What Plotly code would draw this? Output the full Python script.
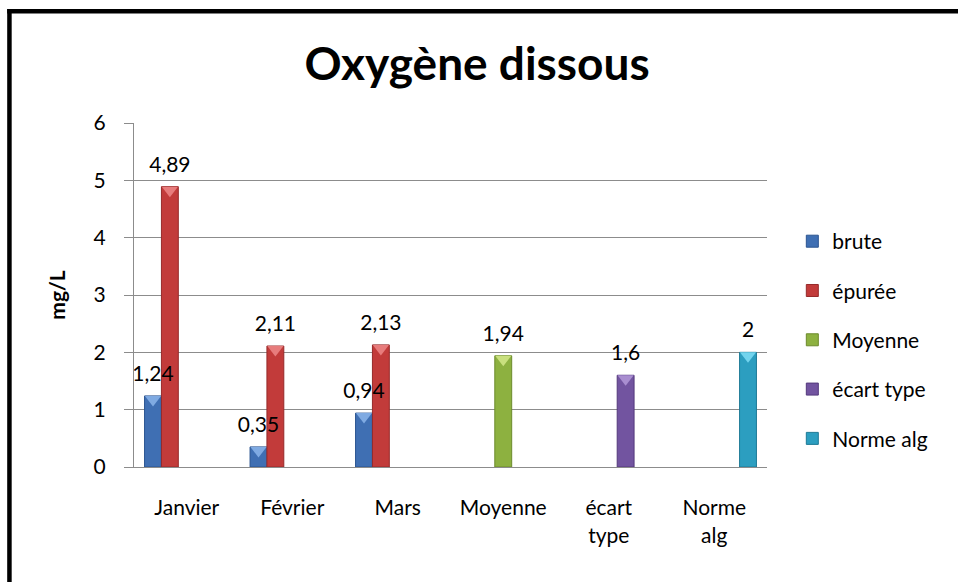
import plotly.graph_objects as go

# Categories on the x axis
categories = ["Janvier", "Février", "Mars", "Moyenne", "écart<br>type", "Norme<br>alg"]

# Dissolved-oxygen values (mg/L) per series; None = no bar in that category
brute = [1.24, 0.35, 0.94, None, None, None]
epuree = [4.89, 2.11, 2.13, None, None, None]
moyenne = [None, None, None, 1.94, None, None]
ecart_type = [None, None, None, None, 1.6, None]
norme_alg = [None, None, None, None, None, 2]

series_names = ["brute", "épurée", "Moyenne", "écart type", "Norme alg"]
series_values = [brute, epuree, moyenne, ecart_type, norme_alg]
series_colors = ["#3F6FB3", "#C23B3A", "#8DB140", "#7254A0", "#2C9EC0"]
series_edges = ["#2B5490", "#962A2A", "#6C8A2C", "#54397C", "#1E7A96"]
series_caps = ["#7FAAE2", "#E77C7C", "#C9E07E", "#A98ED0", "#72D4EE"]

y_ticks = [0, 1, 2, 3, 4, 5, 6]

FONT = "Lato, 'Open Sans', sans-serif"
GRID = "#8C8C8C"


def fmt(v):
    # French decimal comma for the value labels
    if v is None:
        return None
    s = f"{v:g}"
    return s.replace(".", ",")


fig = go.Figure()

for name, vals, col, edge in zip(series_names, series_values, series_colors, series_edges):
    fig.add_trace(go.Bar(
        x=categories, y=vals, name=name, legendgroup=name,
        marker=dict(color=col, line=dict(color=edge, width=1)),
        hoverinfo="skip",
    ))

# Bevel cap on each bar top plus the value label, grouped like the bars
for name, vals, cap in zip(series_names, series_values, series_caps):
    fig.add_trace(go.Scatter(
        x=categories, y=vals, mode="markers+text",
        text=[fmt(v) for v in vals], textposition="top center",
        textfont=dict(family=FONT, size=21, color="#000000"),
        marker=dict(symbol="triangle-down", size=14, standoff=3.5,
                    color=cap, line=dict(width=0)),
        legendgroup=name, showlegend=False, hoverinfo="skip",
        cliponaxis=False,
    ))

fig.update_layout(
    width=958, height=582,
    margin=dict(l=134, r=191, t=123, b=115),
    paper_bgcolor="white", plot_bgcolor="white",
    barmode="group", bargap=0.2, bargroupgap=0,
    scattermode="group", scattergap=0.2,
    font=dict(family=FONT, size=21, color="#000000"),
    title=dict(
        text="<b>Oxygène dissous</b>",
        font=dict(family=FONT, size=46, color="#000000"),
        x=0.498, xanchor="center", xref="container",
        y=1 - 64 / 582, yanchor="middle", yref="container",
    ),
    showlegend=True,
    legend=dict(
        x=1.04, xanchor="left", y=0.715, yanchor="top",
        font=dict(family=FONT, size=21, color="#000000"),
        tracegroupgap=19, bgcolor="rgba(0,0,0,0)",
        traceorder="grouped",
    ),
)

fig.update_xaxes(
    type="category",
    showgrid=False, showline=True, linecolor=GRID, linewidth=1,
    ticks="", ticklabelstandoff=22,
    tickfont=dict(family=FONT, size=21, color="#000000"),
    fixedrange=True,
)

fig.update_yaxes(
    range=[0, 6], tickvals=y_ticks, ticktext=[str(t) for t in y_ticks],
    showgrid=True, gridcolor=GRID, gridwidth=1,
    showline=True, linecolor=GRID, linewidth=1,
    ticks="outside", ticklen=9, tickcolor=GRID,
    ticklabelstandoff=14,
    tickfont=dict(family=FONT, size=21, color="#000000"),
    zeroline=False,
    title=dict(text="<b>mg/L</b>", font=dict(family=FONT, size=21, color="#000000"), standoff=22),
    fixedrange=True,
)

# Outer frame of the chart area: only its left and top edges fall on the page
frame_left = (9.5 - 134) / 632.7
frame_top = (466.7 - 11) / 344
frame = dict(color="black", width=4.5)
fig.add_shape(type="line", xref="paper", yref="paper",
              x0=frame_left, x1=frame_left, y0=-1.0, y1=frame_top + 0.0065,
              line=frame, layer="above")
fig.add_shape(type="line", xref="paper", yref="paper",
              x0=frame_left - 0.0035, x1=2.0, y0=frame_top, y1=frame_top,
              line=frame, layer="above")

fig.write_html("out.html", config={"displayModeBar": False})
